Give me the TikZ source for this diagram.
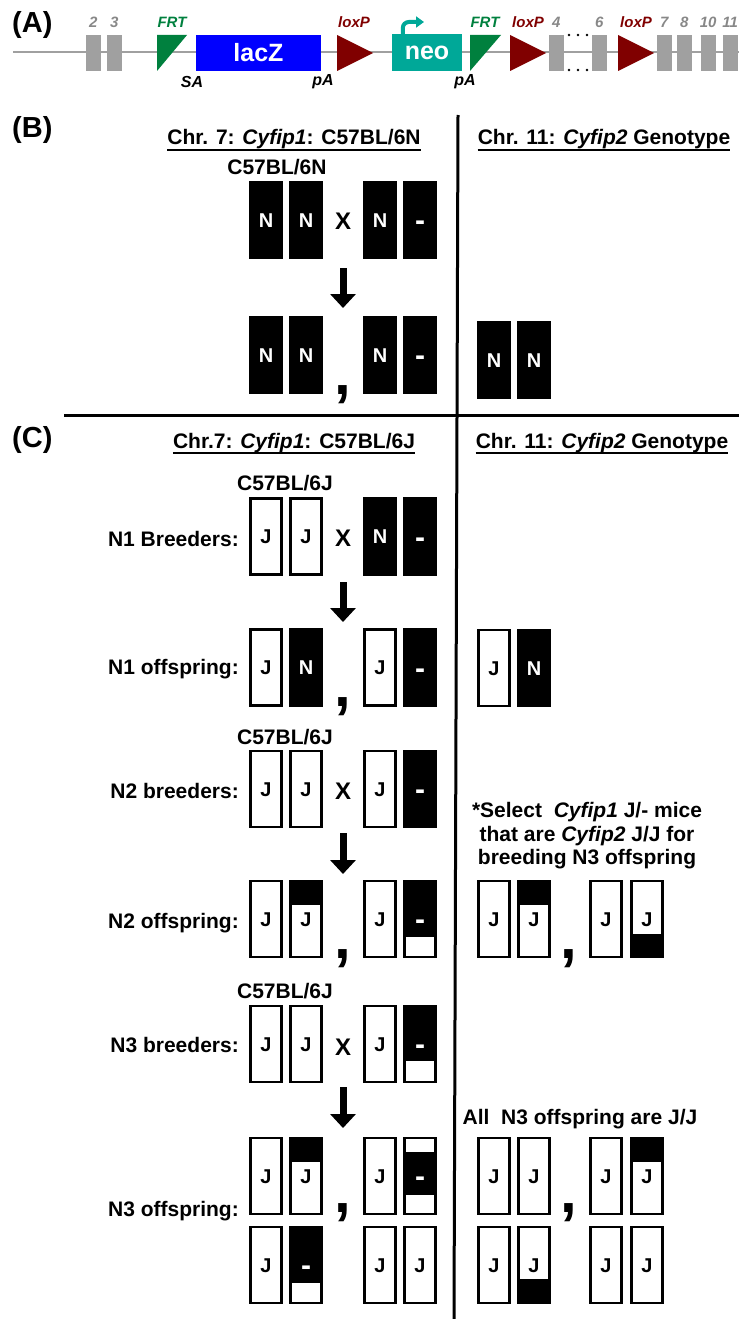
\documentclass[tikz,border=0pt]{standalone}
\usepackage{fontspec}
\setmainfont{Liberation Sans}
\usetikzlibrary{arrows.meta}

\definecolor{frtgreen}{RGB}{0,128,62}
\definecolor{loxred}{RGB}{128,0,0}
\definecolor{neoteal}{RGB}{0,168,152}
\definecolor{exongray}{RGB}{160,160,160}

\tikzset{
  panel/.style={font=\fontsize{29}{33}\selectfont\bfseries, inner sep=0pt, anchor=base west},
  lab/.style={font=\fontsize{21}{24}\selectfont\bfseries, inner sep=0pt, text height=15pt, text depth=0pt},
  crossx/.style={lab, font=\fontsize{24}{26}\selectfont\bfseries},
  chrom/.style={draw, line width=2.6pt, minimum width=31pt, minimum height=76pt, inner sep=0pt,
    font=\fontsize{20}{24}\selectfont\bfseries, text height=14pt, text depth=0pt},
  wt/.style={chrom, fill=white},
  nt/.style={chrom, fill=black, text=white},
  del/.style={font=\fontsize{30}{30}\selectfont\bfseries, text=white, text height=21pt},
  seg/.style 2 args={chrom, fill=white, path picture={\fill[black]
    ([yshift=-#1]path picture bounding box.north west) rectangle ([yshift=-#2]path picture bounding box.north east);}},
  comma/.style={font=\fontsize{60}{60}\selectfont\bfseries, inner sep=0pt, anchor=base},
  down/.style={line width=7pt, -{Triangle[width=25pt,length=14pt]}},
  exnum/.style={font=\fontsize{15}{17}\selectfont\bfseries\itshape, text=exongray!85!black},
  site/.style={font=\fontsize{15}{17}\selectfont\bfseries\itshape},
  ul/.style={line width=1.8pt},
}

\begin{document}
\begin{tikzpicture}[x=1pt, y=-1pt]
  \useasboundingbox (0,0) rectangle (739,1319);

  % ---------------- (A) targeted allele ----------------
  \node[panel] (pA) at (12,33) {(A)};
  \draw[exongray, line width=2pt] (13,52) -- (739,52);
  % exons with numbers
  \foreach \xa/\n in {86/2,107/3,549/4,592/6,657/7,677/8,701/10,723/11} {
    \fill[exongray] (\xa,35) rectangle ++(14.5,36);
    \node[exnum] at (\xa+7.2,22) {\n};
  }
  % skipped exons
  \foreach \xd in {569,578,587} {
    \fill (\xd,35) circle (1.4pt);
    \fill (\xd,70) circle (1.4pt);
  }
  % FRT sites
  \fill[frtgreen] (157,35) -- (187,35) -- (157,71) -- cycle;
  \fill[frtgreen] (470,35) -- (501,35) -- (470,71) -- cycle;
  \node[site, text=frtgreen] at (172,22) {FRT};
  \node[site, text=frtgreen] at (485,22) {FRT};
  % loxP sites
  \foreach \xl in {337,510,618}
    \fill[loxred] (\xl,35) -- (\xl,71) -- (\xl+36,53) -- cycle;
  \foreach \xl in {354,528,636}
    \node[site, text=loxred] at (\xl,22) {loxP};
  % cassettes
  \node[fill=blue, text=white, minimum width=125pt, minimum height=36pt, inner sep=0pt,
    font=\fontsize{25}{28}\selectfont\bfseries] (lacz) at (258.5,53) {lacZ};
  \node[fill=neoteal, text=white, minimum width=70pt, minimum height=37pt, inner sep=0pt,
    font=\fontsize{25}{28}\selectfont\bfseries] (neo) at (427,52.5) {neo};
  \coordinate (neotip) at (424,22);
  \draw[neoteal, line width=4pt, rounded corners=6pt, -{Triangle[width=11pt,length=8pt]}]
    ([xshift=11pt]neo.north west) |- (neotip);
  \node[site, font=\fontsize{16}{18}\selectfont\bfseries\itshape] at (192,82) {SA};
  \node[site, font=\fontsize{16}{18}\selectfont\bfseries\itshape] at (323,82) {pA};
  \node[site, font=\fontsize{16}{18}\selectfont\bfseries\itshape] at (465,82) {pA};

  % ---------------- dividers ----------------
  \coordinate (vt) at (458,115);
  \coordinate (vb) at (454,1319);
  \coordinate (hl) at (64,415);
  \coordinate (hr) at (739,415);
  \draw[line width=3pt] (vt) -- (vb);
  \draw[line width=3pt] (hl) -- (hr);

  % ---------------- (B) C57BL/6N ----------------
  \node[panel] (pB) at (12,137) {(B)};
  \node[lab] (hB) at (294,137.5) {Chr. 7: \textit{Cyfip1}: C57BL/6N};
  \node[lab] (hB2) at (604,137.5) {Chr. 11: \textit{Cyfip2} Genotype};
  \draw[ul] ([yshift=-4.5pt]hB.south west) -- ([yshift=-4.5pt]hB.south east);
  \draw[ul] ([yshift=-4.5pt]hB2.south west) -- ([yshift=-4.5pt]hB2.south east);
  \node[lab] (sB) at (277,167) {C57BL/6N};

  \node[nt] (b1) at (266,220) {N};
  \node[nt] (b2) at (306,220) {N};
  \node[crossx] (xB) at (343,222) {X};
  \node[nt] (b3) at (380,220) {N};
  \node[nt, del] (b4) at (420,220) {-};

  \coordinate (aB1) at (343,268);
  \coordinate (aB2) at (343,308);
  \draw[down] (aB1) -- (aB2);

  \node[nt] (bo1) at (266,355) {N};
  \node[nt] (bo2) at (306,355) {N};
  \node[comma] (cB) at (343,394) {,};
  \node[nt] (bo3) at (380,355) {N};
  \node[nt, del] (bo4) at (420,355) {-};
  \node[nt] (bc1) at (494,360) {N};
  \node[nt] (bc2) at (534,360) {N};

  % ---------------- (C) backcross to C57BL/6J ----------------
  \node[panel] (pC) at (12,447) {(C)};
  \node[lab] (hC) at (294,440.5) {Chr.7: \textit{Cyfip1}: C57BL/6J};
  \node[lab] (hC2) at (602,440.5) {Chr. 11: \textit{Cyfip2} Genotype};
  \draw[ul] ([yshift=-4.5pt]hC.south west) -- ([yshift=-4.5pt]hC.south east);
  \draw[ul] ([yshift=-4.5pt]hC2.south west) -- ([yshift=-4.5pt]hC2.south east);

  % N1 breeders
  \node[lab] (s1) at (285,483) {C57BL/6J};
  \node[lab, anchor=east] (r1) at (239,539) {N1 Breeders:};
  \node[wt] (c11) at (266,536.5) {J};
  \node[wt] (c12) at (306,536.5) {J};
  \node[crossx] (x1) at (343,539) {X};
  \node[nt] (c13) at (380,536.5) {N};
  \node[nt, del] (c14) at (420,536.5) {-};
  \coordinate (a11) at (343,582);
  \coordinate (a12) at (343,622);
  \draw[down] (a11) -- (a12);

  % N1 offspring
  \node[lab, anchor=east] (r2) at (239,667) {N1 offspring:};
  \node[wt] (c21) at (266,667.5) {J};
  \node[nt] (c22) at (306,667.5) {N};
  \node[comma] (k2) at (343,706) {,};
  \node[wt] (c23) at (380,667.5) {J};
  \node[nt, del] (c24) at (420,667.5) {-};
  \node[wt] (d21) at (494,668) {J};
  \node[nt] (d22) at (534,668) {N};

  % N2 breeders
  \node[lab] (s3) at (285,737) {C57BL/6J};
  \node[lab, anchor=east] (r3) at (239,791) {N2 breeders:};
  \node[wt] (c31) at (266,789) {J};
  \node[wt] (c32) at (306,789) {J};
  \node[crossx] (x3) at (343,792) {X};
  \node[wt] (c33) at (380,789) {J};
  \node[nt, del] (c34) at (420,789) {-};
  \coordinate (a31) at (343,833);
  \coordinate (a32) at (343,874);
  \draw[down] (a31) -- (a32);

  \node[font=\fontsize{21}{23.5}\selectfont\bfseries, align=center, inner sep=0pt] (sel) at (587,836)
    {*Select\ \ \textit{Cyfip1} J/- mice\\ that are \textit{Cyfip2} J/J for\\ breeding N3 offspring};

  % N2 offspring
  \node[lab, anchor=east] (r4) at (239,921) {N2 offspring:};
  \node[wt] (c41) at (266,919) {J};
  \node[seg={0pt}{24pt}] (c42) at (306,919) {J};
  \node[comma] (k4) at (343,958) {,};
  \node[wt] (c43) at (380,919) {J};
  \node[seg={0pt}{56pt}, del] (c44) at (420,919) {-};
  \node[wt] (d41) at (494,919) {J};
  \node[seg={0pt}{24pt}] (d42) at (534,919) {J};
  \node[comma] (m4) at (569,958) {,};
  \node[wt] (d43) at (606,919) {J};
  \node[seg={53pt}{80pt}] (d44) at (647,919) {J};

  % N3 breeders
  \node[lab] (s5) at (285,991) {C57BL/6J};
  \node[lab, anchor=east] (r5) at (239,1045) {N3 breeders:};
  \node[wt] (c51) at (266,1044) {J};
  \node[wt] (c52) at (306,1044) {J};
  \node[crossx] (x5) at (343,1048) {X};
  \node[wt] (c53) at (380,1044) {J};
  \node[seg={0pt}{55pt}, del] (c54) at (420,1044) {-};
  \coordinate (a51) at (343,1087);
  \coordinate (a52) at (343,1128);
  \draw[down] (a51) -- (a52);

  \node[lab] (all) at (580,1117) {All\ \ N3 offspring are J/J};

  % N3 offspring
  \node[lab, anchor=east] (r6) at (239,1209) {N3 offspring:};
  \node[wt] (c61) at (266,1176) {J};
  \node[seg={0pt}{24pt}] (c62) at (306,1176) {J};
  \node[comma] (k6) at (343,1212) {,};
  \node[wt] (c63) at (380,1176) {J};
  \node[seg={14pt}{57pt}, del] (c64) at (420,1176) {-};
  \node[wt] (d61) at (494,1176) {J};
  \node[wt] (d62) at (534,1176) {J};
  \node[comma] (m6) at (569,1212) {,};
  \node[wt] (d63) at (606,1176) {J};
  \node[seg={0pt}{24pt}] (d64) at (647,1176) {J};

  \node[wt] (c71) at (266,1265) {J};
  \node[seg={0pt}{56pt}, del] (c72) at (306,1265) {-};
  \node[wt] (c73) at (380,1265) {J};
  \node[wt] (c74) at (420,1265) {J};
  \node[wt] (d71) at (494,1265) {J};
  \node[seg={52pt}{80pt}] (d72) at (534,1265) {J};
  \node[wt] (d73) at (606,1265) {J};
  \node[wt] (d74) at (647,1265) {J};
\end{tikzpicture}
\end{document}
